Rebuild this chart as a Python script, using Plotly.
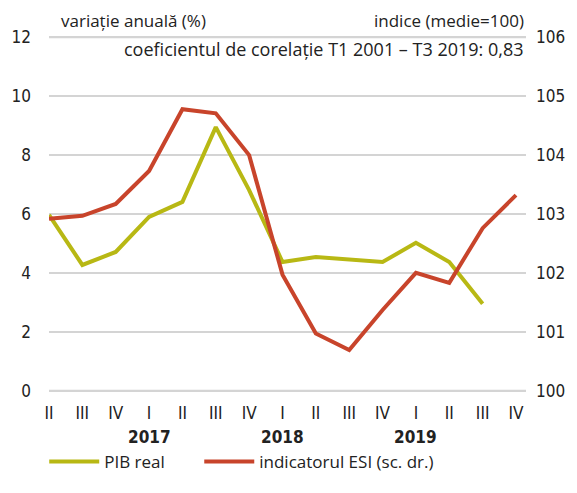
import plotly.graph_objects as go

# Quarterly labels, Q2 2016 – Q4 2019
quarters = ["II", "III", "IV", "I", "II", "III", "IV", "I", "II", "III", "IV", "I", "II", "III", "IV"]
years = ["2017", "2018", "2019"]
year_pos = [3, 7, 11]

# Real GDP, annual change (%) – left axis
pib_real = [5.97, 4.27, 4.71, 5.90, 6.41, 8.95, 6.81, 4.37, 4.54, 4.47, 4.37, 5.02, 4.37, 2.95]
# ESI indicator, index (mean = 100) – right axis
esi = [102.92, 102.97, 103.17, 103.73, 104.78, 104.71, 104.00, 101.97, 100.97, 100.69,
       101.37, 102.00, 101.83, 102.76, 103.32]

left_ticks = [0, 2, 4, 6, 8, 10, 12]
right_ticks = [100, 101, 102, 103, 104, 105, 106]

GREEN = "#b8b814"
RED = "#c8442b"
GRID = "#d4d4d4"
FONT = "Open Sans"
NARROW = "Liberation Sans Narrow, DejaVu Sans Condensed, Open Sans"
TXT = "#222222"

fig = go.Figure()
fig.add_trace(go.Scatter(
    x=list(range(len(pib_real))), y=pib_real, name="PIB real", mode="lines",
    line=dict(color=GREEN, width=4), yaxis="y", cliponaxis=False, legend="legend"))
fig.add_trace(go.Scatter(
    x=list(range(len(esi))), y=esi, name="indicatorul ESI (sc. dr.)", mode="lines",
    line=dict(color=RED, width=4), yaxis="y2", cliponaxis=False, legend="legend2"))

# bottom and top grid lines, drawn explicitly so they stay visible at the range ends
for v in (left_ticks[0], left_ticks[-1]):
    fig.add_shape(type="line", xref="paper", x0=0, x1=1, yref="y", y0=v, y1=v,
                  line=dict(color=GRID, width=2), layer="above")

annotations = [
    dict(text=y, x=p, xref="x", y=-0.106, yref="paper", showarrow=False,
         font=dict(family=NARROW, size=17, color=TXT, weight="bold"), yanchor="middle")
    for y, p in zip(years, year_pos)
]
annotations += [
    dict(text="variație anuală (%)", x=0.02, xref="paper", y=1.027, yref="paper",
         xanchor="left", yanchor="middle", showarrow=False,
         font=dict(family=FONT, size=17, color=TXT)),
    dict(text="indice (medie=100)", x=1.0, xref="paper", y=1.027, yref="paper",
         xanchor="right", yanchor="middle", showarrow=False,
         font=dict(family=FONT, size=17, color=TXT)),
    dict(text="coeficientul de corelație T1 2001 – T3 2019: 0,83", x=1.0, xref="paper",
         y=0.948, yref="paper", xanchor="right", yanchor="middle", showarrow=False,
         font=dict(family=FONT, size=18, color=TXT)),
]

legend_style = dict(orientation="h", yanchor="middle", y=-0.174, xanchor="left",
                    font=dict(family=FONT, size=17, color=TXT), itemwidth=50,
                    bgcolor="rgba(0,0,0,0)")

fig.update_layout(
    width=577, height=493,
    margin=dict(l=45, r=37, t=30, b=95),
    paper_bgcolor="white", plot_bgcolor="white",
    font=dict(family=FONT, size=15, color=TXT),
    showlegend=True,
    legend=dict(x=-0.01, **legend_style),
    legend2=dict(x=0.315, **legend_style),
    xaxis=dict(range=[0, 14.3], tickmode="array", tickvals=list(range(len(quarters))),
               ticktext=quarters, showgrid=False, zeroline=False, showline=False,
               ticks="", ticklabelstandoff=3, tickfont=dict(family=NARROW, size=17)),
    yaxis=dict(range=[-0.25, 12.25], tickvals=left_ticks, showgrid=True, gridcolor=GRID,
               gridwidth=2, zeroline=False, showline=False, ticks="",
               ticklabelstandoff=17, tickfont=dict(family=NARROW, size=17)),
    yaxis2=dict(range=[99.875, 106.125], tickvals=right_ticks, overlaying="y", side="right",
                showgrid=False, zeroline=False, showline=False, ticks="",
                ticklabelstandoff=9, tickfont=dict(family=NARROW, size=17)),
    annotations=annotations,
)

fig.write_html("out.html")
